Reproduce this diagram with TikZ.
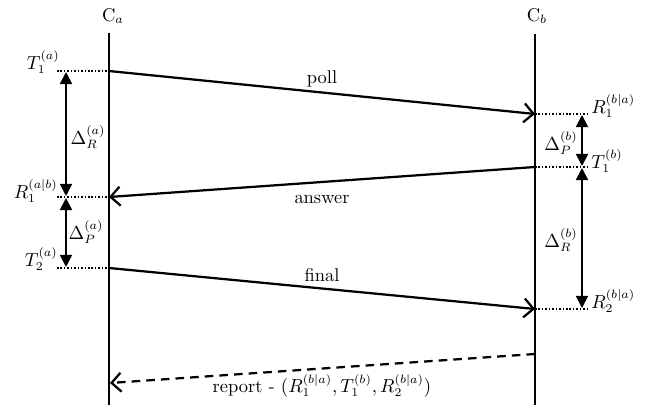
\documentclass[tikz,border=0pt]{standalone}
\usetikzlibrary{arrows.meta}
\begin{document}
\begin{tikzpicture}[x=0.58pt,y=-0.58pt, font=\fontsize{10.7}{13}\selectfont]
\tikzset{
 life/.style={line width=1.45pt},
 msg/.style={line width=1.3pt, -{Straight Barb[length=5.5pt,width=11pt,line width=1.3pt]}},
 reportline/.style={msg, dash pattern=on 5pt off 3.5pt},
 tickline/.style={line width=0.9pt, dash pattern=on 0.9pt off 1.1pt},
 span/.style={line width=1.05pt, {Triangle[length=7pt,width=7pt]}-{Triangle[length=7pt,width=7pt]}},
 lbl/.style={inner sep=0pt}
}
\useasboundingbox (0,0) rectangle (646,405);
% lifelines
\coordinate (A0) at (109,33); \coordinate (A1) at (109,405);
\coordinate (B0) at (535,34); \coordinate (B1) at (535,405);
\node[lbl] (Ca) at (113,16) {C$_a$};
\node[lbl] (Cb) at (537,16) {C$_b$};
\draw[life] (A0) -- (A1);
\draw[life] (B0) -- (B1);
% events
\coordinate (aT1) at (109,71); \coordinate (aT1l) at (57,71);
\coordinate (bR1) at (535,114); \coordinate (bR1r) at (590,114);
\coordinate (bT1) at (535,167); \coordinate (bT1r) at (590,167);
\coordinate (aR1) at (109,197); \coordinate (aR1l) at (57,197);
\coordinate (aT2) at (109,268); \coordinate (aT2l) at (57,268);
\coordinate (bR2) at (535,309); \coordinate (bR2r) at (590,309);
\coordinate (bRep) at (535,354); \coordinate (aRep) at (110,383);
% ticks
\draw[tickline] (aT1l) -- (aT1);
\draw[tickline] (aR1l) -- (aR1);
\draw[tickline] (aT2l) -- (aT2);
\draw[tickline] (bR1) -- (bR1r);
\draw[tickline] (bT1) -- (bT1r);
\draw[tickline] (bR2) -- (bR2r);
% tick labels
\node[lbl, anchor=east] (lT1a) at (60,62) {$T_1^{(a)}$};
\node[lbl, anchor=east] (lR1a) at (58,191) {$R_1^{(a|b)}$};
\node[lbl, anchor=east] (lT2a) at (58,259) {$T_2^{(a)}$};
\node[lbl, anchor=west] (lR1b) at (591,106) {$R_1^{(b|a)}$};
\node[lbl, anchor=west] (lT1b) at (591,161) {$T_1^{(b)}$};
\node[lbl, anchor=west] (lR2b) at (591,301) {$R_2^{(b|a)}$};
% messages
\draw[msg] (aT1) -- (bR1);
\draw[msg] (bT1) -- (aR1);
\draw[msg] (aT2) -- (bR2);
\draw[reportline] (bRep) -- (aRep);
\node[lbl] (mpoll) at (322,79) {poll};
\node[lbl] (mans) at (322,199) {answer};
\node[lbl] (mfin) at (322,275) {final};
\node[lbl] (mrep) at (322,386) {report - $(R_1^{(b|a)},T_1^{(b)},R_2^{(b|a)})$};
% spans
\coordinate (dl1) at (66,72); \coordinate (dl2) at (66,196);
\coordinate (dl3) at (66,198); \coordinate (dl4) at (66,267);
\coordinate (dr1) at (582,115); \coordinate (dr2) at (582,166);
\coordinate (dr3) at (582,168); \coordinate (dr4) at (582,308);
\draw[span] (dl1) -- (dl2);
\draw[span] (dl3) -- (dl4);
\draw[span] (dr1) -- (dr2);
\draw[span] (dr3) -- (dr4);
\node[lbl] (dRa) at (88,137) {$\Delta_R^{(a)}$};
\node[lbl] (dPa) at (86,232) {$\Delta_P^{(a)}$};
\node[lbl] (dPb) at (561,143) {$\Delta_P^{(b)}$};
\node[lbl] (dRb) at (561,240) {$\Delta_R^{(b)}$};
\end{tikzpicture}
\end{document}
